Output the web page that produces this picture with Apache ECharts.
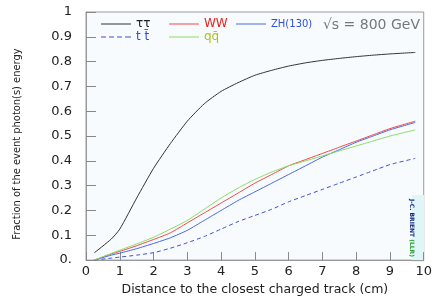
<!DOCTYPE html>
<html>
<head>
<meta charset="utf-8">
<script src="https://cdn.jsdelivr.net/npm/echarts@6/dist/echarts.min.js"></script>
<style>
  html, body { margin: 0; padding: 0; background: #fff; }
  #main { width: 435px; height: 301px; }
</style>
</head>
<body>
<div id="main"></div>
<script>
// distance to closest charged track (cm)
var xs = [0.25, 0.75, 1, 1.5, 2, 2.5, 3, 3.5, 4, 4.5, 5, 5.5, 6, 6.5, 7, 7.5, 8, 8.5, 9, 9.75];
var tautau = [0.03, 0.085, 0.125, 0.25, 0.37, 0.47, 0.56, 0.63, 0.68, 0.715, 0.745, 0.765, 0.782, 0.795, 0.805, 0.813, 0.82, 0.826, 0.831, 0.837];
var ww = [0, 0.025, 0.035, 0.058, 0.083, 0.11, 0.15, 0.19, 0.23, 0.27, 0.31, 0.345, 0.38, 0.405, 0.43, 0.455, 0.48, 0.505, 0.53, 0.56];
var zh = [0, 0.02, 0.028, 0.046, 0.067, 0.09, 0.12, 0.16, 0.2, 0.24, 0.275, 0.31, 0.345, 0.38, 0.415, 0.445, 0.475, 0.5, 0.525, 0.555];
var ttbar = [0, 0.008, 0.012, 0.02, 0.03, 0.048, 0.07, 0.095, 0.125, 0.155, 0.18, 0.205, 0.235, 0.26, 0.285, 0.31, 0.335, 0.36, 0.385, 0.41];
var qqbar = [0, 0.027, 0.04, 0.065, 0.092, 0.125, 0.16, 0.205, 0.25, 0.29, 0.325, 0.355, 0.38, 0.40, 0.42, 0.44, 0.46, 0.48, 0.50, 0.525];

function pairs(ys) {
  return xs.map(function (x, i) { return [x, ys[i]]; });
}

var font = "DejaVu Sans";
var solidIcon = "path://M0,0h30v1h-30z";
var dashIcon = "path://M0,0h5v1h-5zM8,0h5v1h-5zM16,0h5v1h-5zM24,0h6v1h-6z";

function leg(name, left, top, color, size, icon) {
  return {
    data: [{ name: name, icon: icon || solidIcon, textStyle: { color: color } }],
    left: left,
    top: top,
    itemWidth: 30,
    itemHeight: 1,
    textStyle: { fontFamily: font, fontSize: size || 12 },
    selectedMode: false
  };
}

function line(name, ys, color, dashed) {
  return {
    name: name,
    type: "line",
    data: pairs(ys),
    showSymbol: false,
    symbol: "none",
    smooth: 0.2,
    lineStyle: { color: color, width: 1, type: dashed ? [4, 3] : "solid" },
    itemStyle: { color: color },
    z: 3
  };
}

var myChart = echarts.init(document.getElementById("main"));
myChart.setOption({
  animation: false,
  grid: {
    left: 86, right: 9, top: 12, bottom: 35,
    show: true,
    backgroundColor: "#f7fbfd",
    borderColor: "#9a9a9a",
    borderWidth: 1
  },
  legend: [
    leg("ττ", 96, 13, "#222"),
    leg("WW", 164, 13, "#ee2020"),
    leg("ZH(130)", 231, 14, "#3050dd", 10),
    leg("t t̄", 96, 26, "#3050dd", 12, dashIcon),
    leg("qq̄", 164, 26, "#b0c020")
  ],
  xAxis: {
    type: "value",
    min: 0, max: 10, interval: 1,
    name: "Distance to the closest charged track (cm)",
    nameLocation: "middle",
    nameGap: 21,
    nameTextStyle: { fontFamily: font, fontSize: 12.5, color: "#222" },
    axisLine: { lineStyle: { color: "#9a9a9a" } },
    axisTick: { inside: true, length: 8, lineStyle: { color: "#888" } },
    axisLabel: { fontFamily: font, fontSize: 13, color: "#222", margin: 5 },
    splitLine: { show: false }
  },
  yAxis: {
    type: "value",
    min: 0, max: 1, interval: 0.1,
    name: "Fraction of the event photon(s) energy",
    nameLocation: "middle",
    nameGap: 63,
    nameTextStyle: {
      fontFamily: "DejaVu Sans Condensed, " + font, fontSize: 11, color: "#222",
      padding: [0, 16, 0, 0]
    },
    axisLine: { show: true, lineStyle: { color: "#9a9a9a" } },
    axisTick: { inside: true, length: 10, lineStyle: { color: "#888" } },
    axisLabel: {
      fontFamily: font, fontSize: 13, color: "#222", margin: 14,
      formatter: function (v) {
        if (v === 0) return "0.";
        if (v === 1) return "1";
        return v.toFixed(1);
      }
    },
    splitLine: { show: false }
  },
  series: [
    line("ττ", tautau, "#333333", false),
    line("WW", ww, "#f04848", false),
    line("ZH(130)", zh, "#4868e0", false),
    line("t t̄", ttbar, "#4050d0", true),
    line("qq̄", qqbar, "#88dd66", false)
  ],
  graphic: [
    {
      type: "text",
      right: 15, top: 18,
      style: { text: "√s = 800 GeV", fontFamily: font, fontSize: 14, fill: "#777" }
    },
    {
      type: "group",
      left: 409, top: 195,
      children: [
        { type: "rect", shape: { x: 0, y: 0, width: 12, height: 67 }, style: { fill: "#dff5f8" } },
        {
          type: "text",
          x: 3, y: 4,
          rotation: -Math.PI / 2,
          style: {
            text: "J-C. BRIENT {g|(LLR)}",
            fontFamily: font, fontSize: 6, fontWeight: "bold", fill: "#1a2a80",
            rich: { g: { fill: "#30a030", fontSize: 6, fontWeight: "bold", fontFamily: font } }
          }
        }
      ]
    }
  ]
});
</script>
</body>
</html>
